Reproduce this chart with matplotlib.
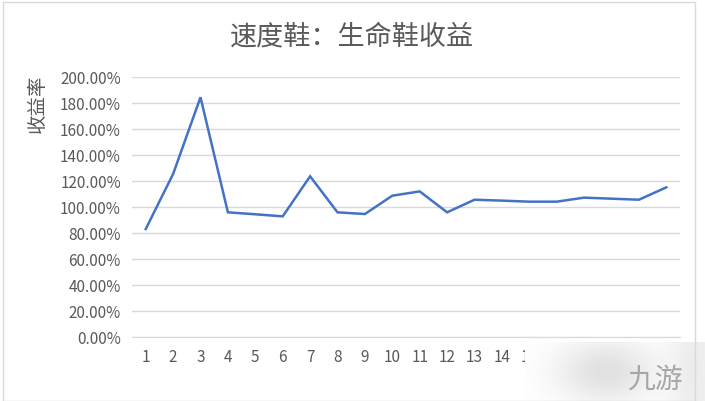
import matplotlib
matplotlib.use("Agg")
import matplotlib.pyplot as plt
import numpy as np
from matplotlib.patches import Rectangle

plt.rcParams['font.family'] = ['Noto Sans CJK SC', 'DejaVu Sans']

title = "速度鞋：生命鞋收益"
ylabel = "收益率"
categories = list(range(1, 21))
values = [83.0, 125.4, 184.4, 95.9, 94.4, 92.8, 123.6, 95.9, 94.6, 108.7,
          112.0, 95.9, 105.6, 104.9, 104.1, 104.1, 107.2, 106.4, 105.6, 115.1]
yticks = [0, 20, 40, 60, 80, 100, 120, 140, 160, 180, 200]

W, H = 705, 402
fig = plt.figure(figsize=(W / 100, H / 100), dpi=100)
fig.patch.set_facecolor('white')

# outer chart border
fig.add_artist(Rectangle((3 / W, 0), (695 - 3) / W, 1 - 3 / H, transform=fig.transFigure,
                         fill=False, edgecolor='#d9d9d9', linewidth=1.0))

ax = fig.add_axes([132 / W, 1 - 338 / H, (680 - 132) / W, (338 - 78) / H])
ax.plot(categories, values, color='#4472c4', linewidth=1.8, solid_joinstyle='miter')
ax.set_xlim(0.5, 20.5)
ax.set_ylim(0, 200)
ax.set_yticks(yticks)
ax.set_yticklabels([f"{v:.2f}%" for v in yticks])
ax.set_xticks(categories)
ax.set_xticklabels([str(c) for c in categories])
ax.grid(axis='y', color='#d9d9d9', linewidth=1.0)
ax.set_axisbelow(True)
for s in ['top', 'right', 'left']:
    ax.spines[s].set_visible(False)
ax.spines['bottom'].set_color('#d9d9d9')
ax.tick_params(axis='both', length=0, labelcolor='#595959', labelsize=11)
ax.tick_params(axis='y', pad=8)
ax.tick_params(axis='x', pad=8)

fig.text(352 / W, 1 - 37 / H, title, ha='center', va='center', fontsize=19.5, color='#595959')
fig.text(37 / W, 1 - 104 / H, ylabel, ha='center', va='center', rotation=90,
         fontsize=14, color='#595959')

# watermark area (bottom-right)
wax = fig.add_axes([525 / W, 0, (W - 525) / W, (H - 343) / H])
xx = np.linspace(0, 1, 200)
yy = np.linspace(0, 1, 60)
X, Y = np.meshgrid(xx, yy)
shade = 1 - 0.12 * np.exp(-((X - 0.45) ** 2) / 0.08 - ((Y - 0.5) ** 2) / 0.3) \
          - 0.07 * np.exp(-((X - 0.95) ** 2) / 0.02)
wax.imshow(shade, cmap='gray', vmin=0, vmax=1, aspect='auto', extent=[0, 1, 0, 1])
wax.set_axis_off()
wax.text(0.72, 0.38, "九游", fontsize=20, color='#a6a6a6', ha='center', va='center',
         style='italic', transform=wax.transAxes)

fig.savefig("out.png", dpi=100)
